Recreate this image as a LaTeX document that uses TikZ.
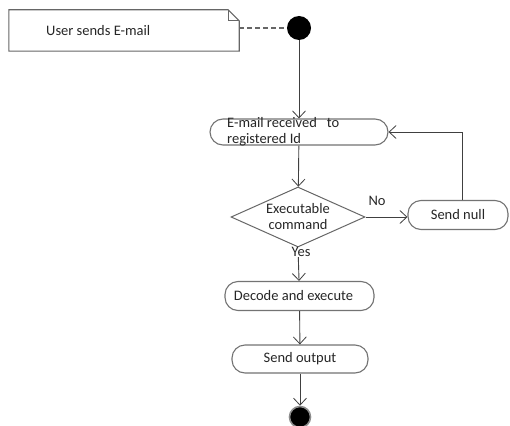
\documentclass[tikz,border=0pt]{standalone}
\usepackage{fontspec}
\setmainfont{Carlito}
\usetikzlibrary{arrows.meta,shapes.geometric,calc}

\begin{document}
\begin{tikzpicture}[x=1pt,y=-1pt,
  every node/.style={font=\fontsize{14.5}{16}\selectfont, text=black!85},
  flow/.style={draw=black!75, line width=0.9pt,
    -{Straight Barb[length=7pt,width=13pt,line width=0.8pt]}},
  activity/.style={draw=black!55, line width=1.1pt, rounded corners=13pt,
    minimum height=28pt, fill=white},
  notebox/.style={draw=black!60, line width=1.1pt, fill=white},
  decision/.style={diamond, draw=black!60, line width=1pt, inner sep=0pt,
    aspect=2.2, minimum width=134pt, minimum height=60pt, align=center}
]
\useasboundingbox (0,0) rectangle (510,425);

% comment note with a folded corner
\node[minimum width=230pt, minimum height=41pt, inner sep=0pt] (note) at (124,30.5) {};
\draw[notebox] (note.north west) -- ($(note.north east)+(-11,0)$)
  -- ($(note.north east)+(0,11)$) -- (note.south east) -- (note.south west) -- cycle;
\draw[notebox, fill=none] ($(note.north east)+(-11,0)$) -- ++(0,11) -- ++(11,0);
\node[anchor=west, inner sep=0pt] (notetext) at (46,31) {User sends E-mail};

% initial and final states
\node[circle, fill=black, minimum size=24pt, inner sep=0pt] (start) at (299,28) {};
\node[circle, fill=black, draw=black!45, line width=1.6pt, minimum size=21pt, inner sep=0pt] (end) at (300,417) {};

% activities
\node[activity, minimum width=178pt, minimum height=26pt] (recv) at (299,132) {};
\node[anchor=west, align=left, inner sep=0pt] (recvtext) at (227,132)
  {E-mail received\ \ \ to\\registered Id};
\node[decision] (dec) at (298,217) {Executable\\command};
\node[activity, minimum width=100pt, minimum height=29pt] (null) at (458,215) {Send null};
\node[activity, minimum width=149pt, minimum height=29pt] (exec) at (299.5,296) {Decode and execute\hspace*{12pt}};
\node[activity, minimum width=136pt, minimum height=28pt] (out) at (300,359) {Send output};

% connectors
\draw[notebox, dashed, dash pattern=on 5pt off 3pt, fill=none] (note.east |- start) -- (start);
\draw[flow] (start) -- (recv);
\draw[flow] (recv) -- (dec);
\draw[flow] (dec.east) -- (dec.east -| null.west);
\draw[flow] ([xshift=4pt]null.north) |- (recv.east);
\draw[flow] (dec.south) -- (exec);
\draw[flow] (exec) -- (out);
\draw[flow] (out) -- (end);

% guard labels
\node[inner sep=0pt] (no) at (377,201) {No};
\node[fill=white, inner sep=0.5pt] (yes) at (301,252) {Yes};
\end{tikzpicture}
\end{document}
